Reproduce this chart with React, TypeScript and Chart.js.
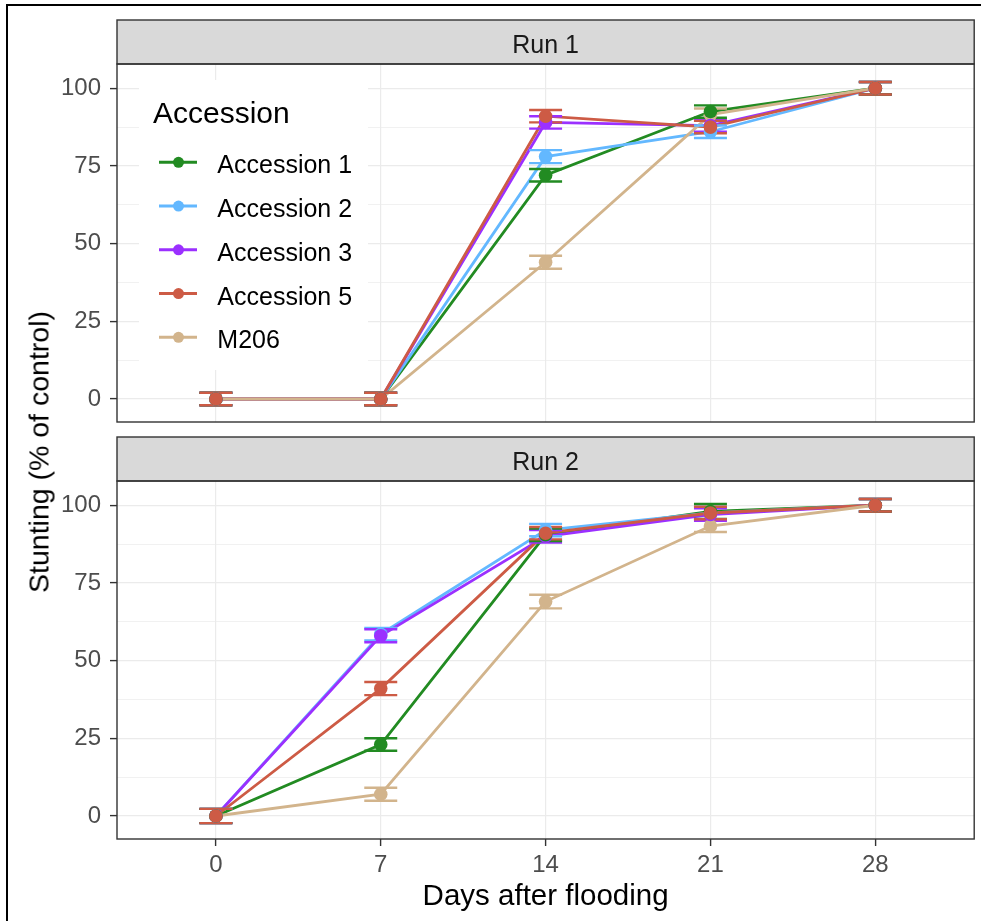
import React, { useEffect, useRef } from "react";
import { Chart, registerables } from "chart.js";

Chart.register(...registerables);

// ---------- data ----------
const DAYS = [0, 7, 14, 21, 28];
const SERIES = ["Accession 1", "Accession 2", "Accession 3", "Accession 5", "M206"];
const COLORS = ["#228B22", "#63B8FF", "#9B30FF", "#CD5B45", "#D2B48C"];
const FACETS = ["Run 1", "Run 2"];
const Y_MAJOR = [0, 25, 50, 75, 100];
const Y_MINOR = [12.5, 37.5, 62.5, 87.5];
const X_TITLE = "Days after flooding";
const Y_TITLE = "Stunting (% of control)";
const LEGEND_TITLE = "Accession";

// Run 1 means
const RUN1_ACC1 = [0, 0, 72, 92.5, 100];
const RUN1_ACC2 = [0, 0, 78, 86, 100];
const RUN1_ACC3 = [0, 0, 89, 88, 100];
const RUN1_ACC5 = [0, 0, 91, 87.5, 100];
const RUN1_M206 = [0, 0, 44, 91.5, 100];
// Run 1 standard errors
const RUN1_ACC1_SE = [2, 2, 2, 2, 2];
const RUN1_ACC2_SE = [2, 2, 2.1, 2, 2];
const RUN1_ACC3_SE = [2, 2, 2, 2, 2];
const RUN1_ACC5_SE = [2, 2, 2, 2, 2];
const RUN1_M206_SE = [2, 2, 2.1, 2, 2];

// Run 2 means
const RUN2_ACC1 = [0, 23, 90.5, 98, 100];
const RUN2_ACC2 = [0, 58.5, 92, 97.5, 100];
const RUN2_ACC3 = [0, 58, 90, 97, 100];
const RUN2_ACC5 = [0, 41, 91, 97.5, 100];
const RUN2_M206 = [0, 7, 69, 93.3, 100];
// Run 2 standard errors
const RUN2_ACC1_SE = [2.3, 2, 2, 2.4, 2];
const RUN2_ACC2_SE = [2.3, 2, 2, 2, 2];
const RUN2_ACC3_SE = [2.3, 2.1, 2, 2, 2];
const RUN2_ACC5_SE = [2.3, 2.1, 2, 2, 2];
const RUN2_M206_SE = [2.3, 2.1, 2.2, 1.9, 2];

const RUN1 = [RUN1_ACC1, RUN1_ACC2, RUN1_ACC3, RUN1_ACC5, RUN1_M206];
const RUN1_SE = [RUN1_ACC1_SE, RUN1_ACC2_SE, RUN1_ACC3_SE, RUN1_ACC5_SE, RUN1_M206_SE];
const RUN2 = [RUN2_ACC1, RUN2_ACC2, RUN2_ACC3, RUN2_ACC5, RUN2_M206];
const RUN2_SE = [RUN2_ACC1_SE, RUN2_ACC2_SE, RUN2_ACC3_SE, RUN2_ACC5_SE, RUN2_M206_SE];

// ---------- style ----------
const FONT = '"Liberation Sans", Arial, sans-serif';
const X_MIN = -4.2;
const X_MAX = 32.2;
const Y_MIN = -7.4;
const Y_MAX = 107.8;
const CAP_HALF = 0.7; // days
const STRIP_H = 44;
// stacking (first = top-most)
const POINT_STACK = [3, 0, 2, 1, 4];
const LINE_STACK = [4, 3, 2, 1, 0];

function buildDatasets(values: number[][]) {
  const pts = POINT_STACK.map((s) => ({
    label: SERIES[s] + " points",
    data: DAYS.map((d, i) => ({ x: d, y: values[s][i] })),
    showLine: false,
    pointRadius: 6.8,
    pointHoverRadius: 6.8,
    pointBackgroundColor: COLORS[s],
    pointBorderColor: COLORS[s],
    pointBorderWidth: 0,
  }));
  const lines = LINE_STACK.map((s) => ({
    label: SERIES[s],
    data: DAYS.map((d, i) => ({ x: d, y: values[s][i] })),
    showLine: true,
    pointRadius: 0,
    pointHoverRadius: 0,
    borderColor: COLORS[s],
    borderWidth: 2.8,
    fill: false,
    tension: 0,
  }));
  return [...pts, ...lines];
}

function errorBarPlugin(values: number[][], errors: number[][]) {
  return {
    id: "errorBars",
    beforeDatasetDraw(chart: any, args: any) {
      if (args.index !== POINT_STACK.length - 1) return;
      const xs = chart.scales.x;
      const ys = chart.scales.y;
      const ctx = chart.ctx;
      ctx.save();
      ctx.lineWidth = 2.4;
      const order = [...POINT_STACK].reverse();
      for (const s of order) {
        ctx.strokeStyle = COLORS[s];
        DAYS.forEach((d, i) => {
          const v = values[s][i];
          const e = errors[s][i];
          const px = xs.getPixelForValue(d);
          const hw = xs.getPixelForValue(d + CAP_HALF) - px;
          const y1 = ys.getPixelForValue(v + e);
          const y2 = ys.getPixelForValue(v - e);
          ctx.beginPath();
          ctx.moveTo(px - hw, y1);
          ctx.lineTo(px + hw, y1);
          ctx.moveTo(px, y1);
          ctx.lineTo(px, y2);
          ctx.moveTo(px - hw, y2);
          ctx.lineTo(px + hw, y2);
          ctx.stroke();
        });
      }
      ctx.restore();
    },
  };
}

function decorPlugin(label: string, withLegend: boolean, withXTitle: boolean) {
  return {
    id: "decor",
    afterDraw(chart: any) {
      const { ctx, chartArea: a } = chart;
      ctx.save();
      if (withLegend) {
        const bx = a.left + 22;
        const by = a.top + 16;
        ctx.fillStyle = "#FFFFFF";
        ctx.fillRect(bx, by, 229, 290);
        ctx.fillStyle = "#000000";
        ctx.font = `30px ${FONT}`;
        ctx.textAlign = "left";
        ctx.textBaseline = "alphabetic";
        ctx.fillText(LEGEND_TITLE, a.left + 36, a.top + 59.3);
        SERIES.forEach((name, i) => {
          const cy = a.top + 98.3 + i * 43.75;
          ctx.strokeStyle = COLORS[i];
          ctx.lineWidth = 3;
          ctx.beginPath();
          ctx.moveTo(a.left + 42, cy);
          ctx.lineTo(a.left + 80, cy);
          ctx.stroke();
          ctx.fillStyle = COLORS[i];
          ctx.beginPath();
          ctx.arc(a.left + 61.5, cy, 5.5, 0, Math.PI * 2);
          ctx.fill();
          ctx.fillStyle = "#000000";
          ctx.font = `25px ${FONT}`;
          ctx.fillText(name, a.left + 100.3, cy + 11);
        });
      }
      // strip
      const top = a.top - STRIP_H;
      ctx.fillStyle = "#D9D9D9";
      ctx.fillRect(a.left, top, a.right - a.left, STRIP_H);
      ctx.strokeStyle = "#333333";
      ctx.lineWidth = 1.4;
      ctx.strokeRect(a.left, top, a.right - a.left, STRIP_H);
      ctx.fillStyle = "#1A1A1A";
      ctx.font = `25px ${FONT}`;
      ctx.textAlign = "center";
      ctx.textBaseline = "alphabetic";
      ctx.fillText(label, (a.left + a.right) / 2, top + 32.5);
      // panel border
      ctx.strokeRect(a.left, a.top, a.right - a.left, a.bottom - a.top);
      if (withXTitle) {
        ctx.fillStyle = "#000000";
        ctx.font = `29.5px ${FONT}`;
        ctx.textAlign = "center";
        ctx.textBaseline = "alphabetic";
        ctx.fillText(X_TITLE, (a.left + a.right) / 2, a.bottom + 66);
      }
      ctx.restore();
    },
  };
}

function makeChart(
  canvas: HTMLCanvasElement,
  values: number[][],
  errors: number[][],
  label: string,
  isBottom: boolean
) {
  const allY = [...Y_MAJOR, ...Y_MINOR].sort((p, q) => p - q);
  return new Chart(canvas, {
    type: "scatter",
    data: { datasets: buildDatasets(values) as any },
    options: {
      animation: false,
      responsive: false,
      events: [],
      layout: {
        padding: { left: 0, right: 5, top: isBottom ? 51 : 64, bottom: isBottom ? 0 : 8 },
      },
      plugins: {
        legend: { display: false },
        tooltip: { enabled: false },
      },
      scales: {
        x: {
          type: "linear",
          min: X_MIN,
          max: X_MAX,
          afterBuildTicks: (s: any) => {
            s.ticks = DAYS.map((v) => ({ value: v }));
          },
          afterFit: (s: any) => {
            s.height = isBottom ? 82 : 0;
            s.paddingLeft = 0;
            s.paddingRight = 0;
            s.paddingTop = 0;
            s.paddingBottom = 0;
          },
          border: { display: false },
          grid: {
            color: "#EBEBEB",
            lineWidth: 1.2,
            drawTicks: isBottom,
            tickLength: 7,
            tickColor: "#333333",
            tickWidth: 1.4,
          },
          ticks: {
            display: isBottom,
            autoSkip: false,
            maxRotation: 0,
            padding: 5,
            color: "#4D4D4D",
            font: { family: FONT, size: 24 },
            callback: (v: any) => String(v),
          },
        },
        y: {
          type: "linear",
          min: Y_MIN,
          max: Y_MAX,
          afterBuildTicks: (s: any) => {
            s.ticks = allY.map((v) => ({ value: v }));
          },
          afterFit: (s: any) => {
            s.width = 117;
            s.paddingLeft = 0;
            s.paddingRight = 0;
            s.paddingTop = 0;
            s.paddingBottom = 0;
          },
          border: { display: false },
          grid: {
            color: "#EBEBEB",
            lineWidth: (c: any) => (Y_MAJOR.includes(c.tick?.value) ? 1.2 : 0.7),
            tickLength: 7,
            tickColor: (c: any) => (Y_MAJOR.includes(c.tick?.value) ? "#333333" : "rgba(0,0,0,0)"),
            tickWidth: 1.4,
          },
          ticks: {
            autoSkip: false,
            padding: 9,
            color: "#4D4D4D",
            font: { family: FONT, size: 24 },
            callback: (v: any) => (Y_MAJOR.includes(v) ? String(v) : ""),
          },
        },
      },
    },
    plugins: [errorBarPlugin(values, errors), decorPlugin(label, !isBottom, isBottom)],
  } as any);
}

export default function App() {
  const ref1 = useRef<HTMLCanvasElement>(null);
  const ref2 = useRef<HTMLCanvasElement>(null);

  useEffect(() => {
    const c1 = makeChart(ref1.current!, RUN1, RUN1_SE, FACETS[0], false);
    const c2 = makeChart(ref2.current!, RUN2, RUN2_SE, FACETS[1], true);
    return () => {
      c1.destroy();
      c2.destroy();
    };
  }, []);

  return (
    <div
      style={{
        position: "absolute",
        left: 0,
        top: 0,
        width: 981,
        height: 921,
        overflow: "hidden",
        background: "#FFFFFF",
      }}
    >
      <div
        style={{
          position: "absolute",
          left: 6,
          top: 4,
          width: 1000,
          height: 1000,
          borderLeft: "2px solid #000",
          borderTop: "2px solid #000",
        }}
      />
      <canvas
        ref={ref1}
        width={981}
        height={430}
        style={{ position: "absolute", left: 0, top: 0, width: 981, height: 430 }}
      />
      <canvas
        ref={ref2}
        width={981}
        height={491}
        style={{ position: "absolute", left: 0, top: 430, width: 981, height: 491 }}
      />
      <div
        style={{
          position: "absolute",
          left: 38.5,
          top: 452,
          transform: "translate(-50%, -50%) rotate(-90deg)",
          fontFamily: FONT,
          fontSize: "28.5px",
          lineHeight: "normal",
          whiteSpace: "nowrap",
          color: "#000",
        }}
      >
        {Y_TITLE}
      </div>
    </div>
  );
}
